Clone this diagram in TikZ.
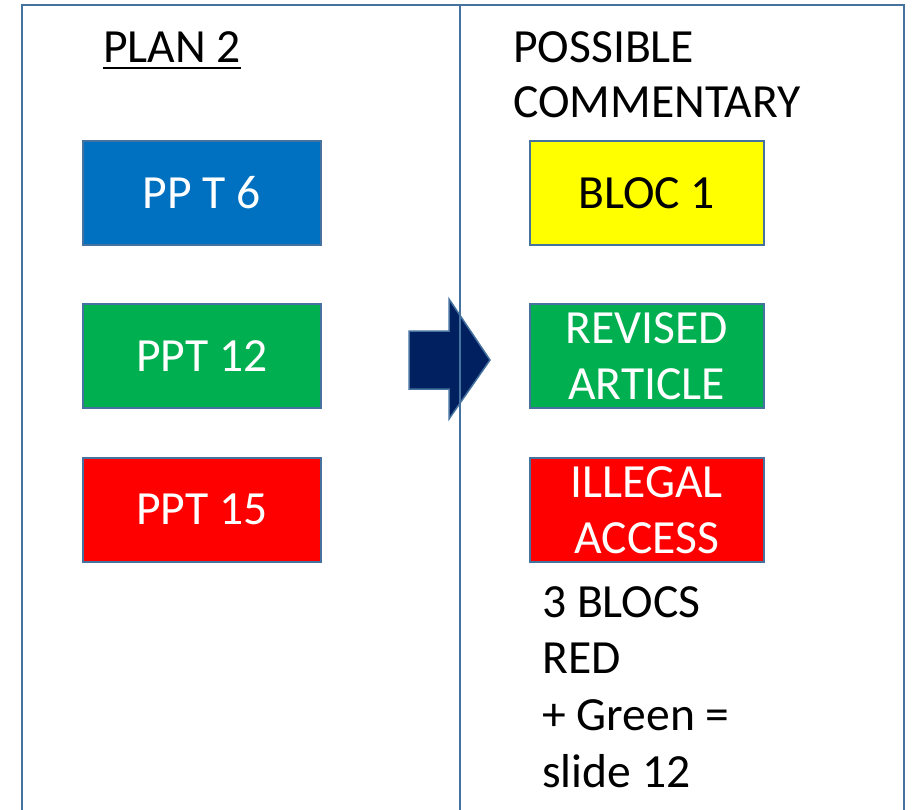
\documentclass[tikz,border=0pt]{standalone}
\usepackage{fontspec}
\setmainfont{Carlito}
\definecolor{frameblue}{RGB}{70,114,160}
\definecolor{pblue}{HTML}{0070C0}
\definecolor{pgreen}{HTML}{00B050}
\definecolor{pred}{HTML}{FF0000}
\definecolor{pyellow}{HTML}{FFFF00}
\definecolor{pnavy}{HTML}{002060}
\begin{document}
\begin{tikzpicture}[x=1pt,y=-1pt,
  bigfont/.style={font=\fontsize{47.6}{56}\selectfont},
  label/.style={bigfont,inner sep=0pt,anchor=base west,text=black},
  colbox/.style={draw=frameblue,line width=1.5pt,minimum width=238pt,minimum height=104pt,
    inner sep=0pt,align=center,bigfont,text=white,anchor=north west},
  frameline/.style={draw=frameblue,line width=2.5pt},
  bigarrow/.style={fill=pnavy,draw=frameblue,line width=1.5pt,line join=miter}]
\useasboundingbox (0,0) rectangle (917,809);
% arrow
\draw[bigarrow] (409,331) -- (449,331) -- (449,299) -- (490,360) -- (449,419) -- (449,389) -- (409,389) -- cycle;
% frame
\coordinate (fbl) at (22,812);
\coordinate (ftl) at (22,5);
\coordinate (ftr) at (904,5);
\coordinate (fbr) at (904,812);
\coordinate (dtop) at (460,5);
\coordinate (dbot) at (460,812);
\draw[frameline] (fbl) -- (ftl) -- (ftr) -- (fbr);
\draw[frameline] (dtop) -- (dbot);
% headings
\node[label] (plan) at (103,62) {PLAN 2};
\draw[line width=2.5pt] ([yshift=-6pt]plan.base west) -- ([yshift=-6pt]plan.base east);
\node[label] (poss) at (513,62) {POSSIBLE};
\node[label] (comm) at (513,117) {COMMENTARY};
% left boxes
\node[colbox,fill=pblue] (b1) at (82,140) {PP T 6};
\node[colbox,fill=pgreen] (b2) at (82,303) {PPT 12};
\node[colbox,fill=pred] (b3) at (82,457) {PPT 15};
% right boxes
\node[colbox,fill=pyellow,text=black,minimum width=234pt] (c1) at (529,140) {BLOC 1};
\node[colbox,fill=pgreen,minimum width=234pt] (c2) at (529,303) {REVISED\\ARTICLE};
\node[colbox,fill=pred,minimum width=234pt] (c3) at (529,457) {ILLEGAL\\ACCESS};
% bottom text
\node[label] (t1) at (542,617) {3 BLOCS};
\node[label] (t2) at (542,673) {RED};
\node[label] (t3) at (542,730) {+ Green =};
\node[label] (t4) at (542,787) {slide 12};
\end{tikzpicture}
\end{document}
